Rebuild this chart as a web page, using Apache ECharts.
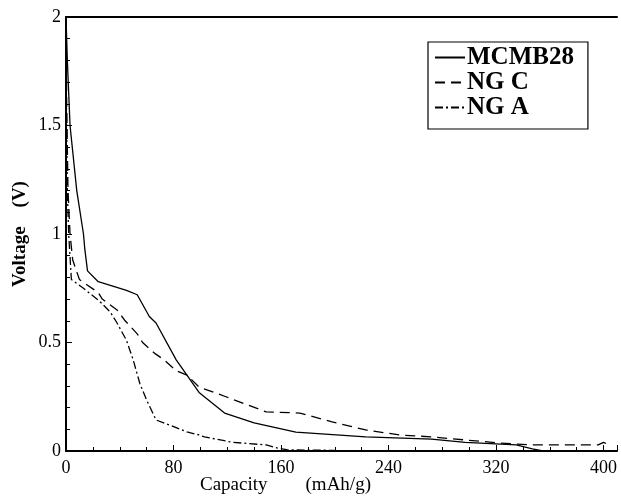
<!DOCTYPE html>
<html>
<head>
<meta charset="utf-8">
<title>Voltage vs Capacity</title>
<script src="https://cdn.jsdelivr.net/npm/echarts@6/dist/echarts.min.js"></script>
<style>
  html, body { margin: 0; padding: 0; background: #fff; }
  #chart { width: 621px; height: 496px; }
</style>
</head>
<body>
<div id="chart"></div>
<script>
// capacity (mAh/g), voltage (V) pairs
const mcmb28 = [
    [0, 2.0], [1, 1.8], [3, 1.5], [8, 1.2], [13, 1.0], [14, 0.93], [16, 0.83],
    [24, 0.78], [45, 0.74], [53, 0.72], [62, 0.62], [67, 0.59], [82, 0.42],
    [99, 0.27], [118, 0.175], [140, 0.13], [171, 0.087], [223, 0.065],
    [272, 0.055], [297, 0.04], [335, 0.028], [347, 0.01], [355, 0]
];
const ngC = [
    [0, 2.0], [0.5, 1.6], [1.5, 1.2], [3, 1.0], [5, 0.88], [10, 0.79],
    [24, 0.73], [27, 0.70], [38, 0.65], [44, 0.60], [53, 0.54], [57, 0.50],
    [66, 0.45], [73, 0.42], [82, 0.37], [90, 0.35], [99, 0.295], [119, 0.25],
    [149, 0.18], [174, 0.175], [198, 0.134], [223, 0.097], [248, 0.074],
    [272, 0.065], [322, 0.037], [347, 0.028], [396, 0.028], [400, 0.04], [404, 0.028]
];
const ngA = [
    [0, 2.0], [0.3, 1.6], [1, 1.2], [2, 1.0], [4, 0.79], [13, 0.75], [25, 0.69],
    [33, 0.64], [38, 0.59], [45, 0.51], [50, 0.42], [55, 0.31], [60, 0.235],
    [67, 0.143], [77, 0.12], [90, 0.088], [99, 0.074], [103, 0.065],
    [124, 0.04], [149, 0.028], [157, 0.014], [165, 0.005], [200, 0.003]
];
const seriesNames = ['MCMB28', 'NG C', 'NG A'];

const font = '"Liberation Serif", "DejaVu Serif", serif';
const chart = echarts.init(document.getElementById('chart'));

function lineSeries(name, data, type) {
    return {
        name: name,
        type: 'line',
        data: data,
        symbol: 'none',
        animation: false,
        lineStyle: { color: '#000', width: 1.3, type: type },
        itemStyle: { color: '#000' }
    };
}

chart.setOption({
    backgroundColor: '#fff',
    grid: { left: 66, right: 4, top: 17, bottom: 45 },
    legend: {
        orient: 'vertical',
        left: 428,
        top: 42,
        padding: [3, 14, 9, 6],
        itemGap: 0,
        itemWidth: 30,
        itemHeight: 12,
        borderColor: '#000',
        borderWidth: 1.2,
        borderRadius: 0,
        itemStyle: { opacity: 0 },
        textStyle: { fontFamily: font, fontSize: 25, fontWeight: 'bold', color: '#000', padding: [0, 0, 0, -3] },
        data: seriesNames
    },
    xAxis: [{
        type: 'value',
        min: 0,
        max: 410,
        interval: 80,
        axisLine: { lineStyle: { color: '#000', width: 2 } },
        axisTick: { inside: true, length: 6, lineStyle: { color: '#000' } },
        minorTick: { show: true, splitNumber: 4, length: 4, lineStyle: { color: '#000' } },
        splitLine: { show: false },
        axisLabel: {
            color: '#000', fontFamily: font, fontSize: 18, margin: 8,
            showMaxLabel: false
        }
    }, {
        type: 'value',
        position: 'top',
        min: 0,
        max: 410,
        axisLine: { show: true, lineStyle: { color: '#000', width: 2 } },
        axisTick: { show: false },
        axisLabel: { show: false },
        splitLine: { show: false }
    }],
    yAxis: {
        type: 'value',
        min: 0,
        max: 2,
        interval: 0.5,
        axisLine: { show: true, lineStyle: { color: '#000', width: 2 } },
        axisTick: { inside: true, length: 6, lineStyle: { color: '#000' } },
        minorTick: { show: true, splitNumber: 5, length: 4, lineStyle: { color: '#000' } },
        splitLine: { show: false },
        axisLabel: {
            color: '#000', fontFamily: font, fontSize: 18, margin: 5,
            formatter: v => String(v)
        }
    },
    graphic: [
        {
            type: 'text',
            left: 200,
            top: 476,
            style: { text: 'Capacity        (mAh/g)', font: '19px ' + font, fill: '#000' }
        },
        {
            type: 'text',
            x: 20,
            y: 234,
            rotation: Math.PI / 2,
            style: {
                text: 'Voltage    (V)', font: 'bold 19px ' + font, fill: '#000',
                align: 'center', verticalAlign: 'middle'
            }
        }
    ],
    series: [
        lineSeries(seriesNames[0], mcmb28, 'solid'),
        lineSeries(seriesNames[1], ngC, [10, 6]),
        lineSeries(seriesNames[2], ngA, [8, 3, 2, 3])
    ]
});
</script>
</body>
</html>
